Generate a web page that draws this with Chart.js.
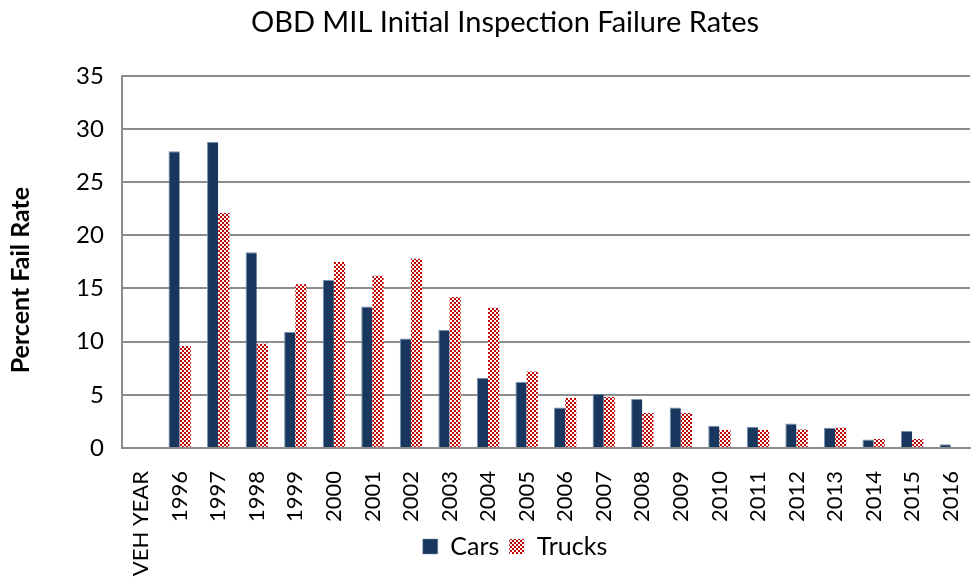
<!DOCTYPE html>
<html>
<head>
<meta charset="utf-8">
<script src="https://cdn.jsdelivr.net/npm/chart.js@4"></script>
<style>
  body { margin: 0; background: #fff; }
  #wrap { width: 972px; height: 579px; }
</style>
</head>
<body>
<div id="wrap"><canvas id="chart" width="972" height="579"></canvas></div>
<script>
// ===== Data =====
const years = ['VEH YEAR', '1996', '1997', '1998', '1999', '2000', '2001', '2002', '2003', '2004', '2005',
  '2006', '2007', '2008', '2009', '2010', '2011', '2012', '2013', '2014', '2015', '2016'];
const cars = [null, 27.9, 28.8, 18.4, 10.9, 15.8, 13.3, 10.3, 11.1, 6.6, 6.2,
  3.8, 5.1, 4.6, 3.8, 2.1, 2.0, 2.3, 1.9, 0.8, 1.6, 0.35];
const trucks = [null, 9.6, 22.1, 9.8, 15.4, 17.5, 16.2, 17.8, 14.2, 13.2, 7.2,
  4.7, 4.8, 3.3, 3.3, 1.7, 1.7, 1.75, 1.9, 0.85, 0.85, 0.1];
const yTicks = [0, 5, 10, 15, 20, 25, 30, 35];

// checkerboard fill for trucks
function checker() {
  const c = document.createElement('canvas');
  c.width = 4; c.height = 4;
  const g = c.getContext('2d');
  g.fillStyle = '#ffffff'; g.fillRect(0, 0, 4, 4);
  g.fillStyle = '#c00000';
  g.fillRect(0, 0, 2, 2); g.fillRect(2, 2, 2, 2);
  return g.createPattern(c, 'repeat');
}
const truckFill = checker();
const font = 'Lato, "Open Sans", sans-serif';

// nudge title and legend to the right, and let the x labels run down past the axis box
const nudge = {
  id: 'nudge',
  afterLayout(chart) {
    const t = chart.titleBlock, l = chart.legend;
    t.left += 18; t.right += 18;
    l.left += 28; l.right += 28;
    chart.scales.x.bottom = chart.height;
  }
};

new Chart(document.getElementById('chart').getContext('2d'), {
  type: 'bar',
  data: {
    labels: years,
    datasets: [
      { label: 'Cars', data: cars, backgroundColor: '#17375e', borderColor: '#7990ad', borderWidth: { top: 1, left: 1, right: 0, bottom: 0 } },
      { label: 'Trucks', data: trucks, backgroundColor: truckFill, borderWidth: 0 }
    ]
  },
  plugins: [nudge],
  options: {
    responsive: false,
    animation: false,
    layout: { padding: { left: 2, right: 0, top: 2, bottom: 10 } },
    datasets: { bar: { categoryPercentage: 0.58, barPercentage: 1 } },
    plugins: {
      title: { display: true, text: 'OBD MIL Initial Inspection Failure Rates', color: '#000',
        font: { family: font, size: 29, weight: 'normal' }, padding: { top: 3, bottom: 36 } },
      legend: { position: 'bottom', labels: { color: '#000', font: { family: font, size: 25 },
        boxWidth: 15, boxHeight: 15, padding: 10 } },
      tooltip: { enabled: false }
    },
    scales: {
      x: {
        grid: { display: false },
        border: { color: '#8c8c8c', width: 2 },
        ticks: { color: '#000', font: { family: font, size: 22 }, maxRotation: 90, minRotation: 90, autoSkip: false, padding: 15 },
        afterFit: s => { s.height = 76; s.paddingRight = 2; }
      },
      y: {
        min: 0, max: 35,
        afterBuildTicks: ax => { ax.ticks = yTicks.map(v => ({ value: v })); },
        grid: { color: '#8c8c8c', lineWidth: 2, drawTicks: false },
        border: { color: '#8c8c8c', width: 2 },
        ticks: { color: '#000', font: { family: font, size: 24 }, padding: 18 },
        // trailing spaces push the rotated title a little lower, as in the original
        title: { display: true, text: 'Percent Fail Rate      ', color: '#000', font: { family: font, size: 25, weight: 'bold' }, padding: { bottom: 22 } }
      }
    }
  }
});
</script>
</body>
</html>
